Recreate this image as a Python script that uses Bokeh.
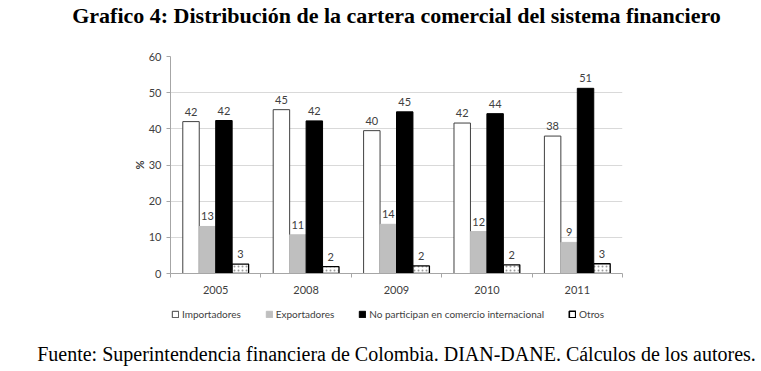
from bokeh.plotting import figure
from bokeh.layouts import column
from bokeh.models import (Range1d, FixedTicker, ColumnDataSource, Legend, LegendItem, Title)
from bokeh.transform import dodge
from bokeh.core.properties import value
from bokeh.embed import file_html
from bokeh.resources import INLINE

years = ["2005", "2008", "2009", "2010", "2011"]
importadores = [42.0, 45.3, 39.5, 41.6, 38.0]
exportadores = [13.0, 10.7, 13.6, 11.6, 8.6]
no_participan = [42.3, 42.2, 44.7, 44.2, 51.2]
otros = [2.6, 1.9, 2.1, 2.4, 2.7]
series_names = ["Importadores", "Exportadores", "No participan en comercio internacional", "Otros"]
y_ticks = [0, 10, 20, 30, 40, 50, 60]

FONT = "Lato"
xc = [i + 0.5 for i in range(len(years))]

W = 761
HT = 28
HA = 270
HB = 71
LEFT, RIGHT = 170, W - 622

# ---- title strip ----
t = figure(width=W, height=HT, output_backend="svg", toolbar_location=None,
           x_range=Range1d(0, 1), y_range=Range1d(0, 1),
           x_axis_location=None, y_axis_location=None,
           min_border_left=LEFT, min_border_right=RIGHT, min_border_top=26,
           min_border_bottom=0)
t.grid.visible = False
t.outline_line_color = None
t.background_fill_color = "white"
t.border_fill_color = "white"
t.title = Title(text="Grafico 4: Distribución de la cartera comercial del sistema financiero",
                align="center", standoff=0, text_font="Liberation Serif", text_font_size="22px",
                text_font_style="bold", text_color="black")

# ---- main chart ----
p = figure(width=W, height=HA, output_backend="svg", toolbar_location=None,
           x_range=Range1d(0, 5), y_range=Range1d(0, 60),
           min_border_left=LEFT, min_border_right=RIGHT, min_border_top=56 - HT,
           min_border_bottom=HA - (273 - HT))
p.outline_line_color = None
p.background_fill_color = "white"
p.border_fill_color = "white"

w = 0.182
offsets = [-1.5 * w, -0.5 * w, 0.5 * w, 1.5 * w]
series = [importadores, exportadores, no_participan, otros]
fills = ["white", "#bfbfbf", "black", "white"]
lines = ["#404040", "#bfbfbf", "black", "black"]
lws = [1, 1, 1, 1.3]

for k, vals in enumerate(series):
    src = ColumnDataSource(dict(x=xc, top=vals, lab=[str(int(round(v))) for v in vals]))
    kw = {}
    if k == 3:
        kw = dict(hatch_pattern="dot", hatch_color="#999999", hatch_scale=4, hatch_weight=1)
    p.vbar(x=dodge("x", offsets[k]), top="top", width=w, source=src,
           fill_color=fills[k], line_color=lines[k], line_width=lws[k], **kw)
    p.text(x=dodge("x", offsets[k]), y="top", text="lab", source=src,
           text_align="center", text_baseline="bottom", y_offset=-6,
           text_font=value(FONT), text_font_size="11px", text_color="#404040")

p.xgrid.visible = False
p.ygrid.ticker = FixedTicker(ticks=y_ticks)
p.ygrid.grid_line_color = "#d9d9d9"

p.yaxis.ticker = FixedTicker(ticks=y_ticks)
p.yaxis.axis_line_color = "#a6a6a6"
p.yaxis.major_tick_line_color = "#a6a6a6"
p.yaxis.major_tick_out = 4
p.yaxis.major_tick_in = 0
p.yaxis.minor_tick_line_color = None
p.yaxis.major_label_text_font = FONT
p.yaxis.major_label_text_font_size = "11px"
p.yaxis.major_label_text_color = "#404040"
p.yaxis.axis_label = "%"
p.yaxis.axis_label_text_font = FONT
p.yaxis.axis_label_text_font_size = "11px"
p.yaxis.axis_label_text_font_style = "bold"
p.yaxis.axis_label_text_color = "#404040"
p.yaxis.axis_label_standoff = 0

p.xaxis.ticker = FixedTicker(ticks=xc, minor_ticks=[0, 1, 2, 3, 4, 5])
p.xaxis.major_label_overrides = {c: y for c, y in zip(xc, years)}
p.xaxis.axis_line_color = "#a6a6a6"
p.xaxis.major_tick_line_color = None
p.xaxis.minor_tick_line_color = "#a6a6a6"
p.xaxis.minor_tick_out = 4
p.xaxis.minor_tick_in = 0
p.xaxis.major_label_text_font = FONT
p.xaxis.major_label_text_font_size = "11px"
p.xaxis.major_label_text_color = "#404040"
p.xaxis.major_label_standoff = 6

# ---- legend + source strip ----
QFRAME = 38
q = figure(width=W, height=HB, output_backend="svg", toolbar_location=None,
           x_range=Range1d(0, 1), y_range=Range1d(0, 1),
           x_axis_location=None, y_axis_location=None,
           min_border_left=LEFT, min_border_right=RIGHT, min_border_top=0,
           min_border_bottom=HB - QFRAME)
q.grid.visible = False
q.outline_line_color = None
q.background_fill_color = "white"
q.border_fill_color = "white"

items = []
for k in range(4):
    # hidden legend proxies (not drawn in the frame)
    r = q.vbar(x=[0.5], top=[0.5], width=0.1, fill_color=fills[k], line_color=lines[k],
               line_width=1.6 if k == 3 else 1, visible=False)
    items.append(LegendItem(label=series_names[k], renderers=[r]))

legend = Legend(items=items, orientation="horizontal", location=(1, 16),
                spacing=24, glyph_width=8, glyph_height=8, label_text_font=FONT,
                label_text_font_size="10px", label_text_color="#404040",
                label_standoff=3, padding=0, margin=0, border_line_color=None,
                background_fill_alpha=0, inactive_fill_alpha=0)
q.add_layout(legend, "center")

q.add_layout(Title(text="Fuente: Superintendencia financiera de Colombia. DIAN-DANE. Cálculos de los autores.",
                   align="center", standoff=8, text_font="Liberation Serif",
                   text_font_size="20px", text_font_style="normal", text_color="black"),
             "below")

layout = column(t, p, q, spacing=0)
open("out.html", "w").write(file_html(layout, INLINE))
